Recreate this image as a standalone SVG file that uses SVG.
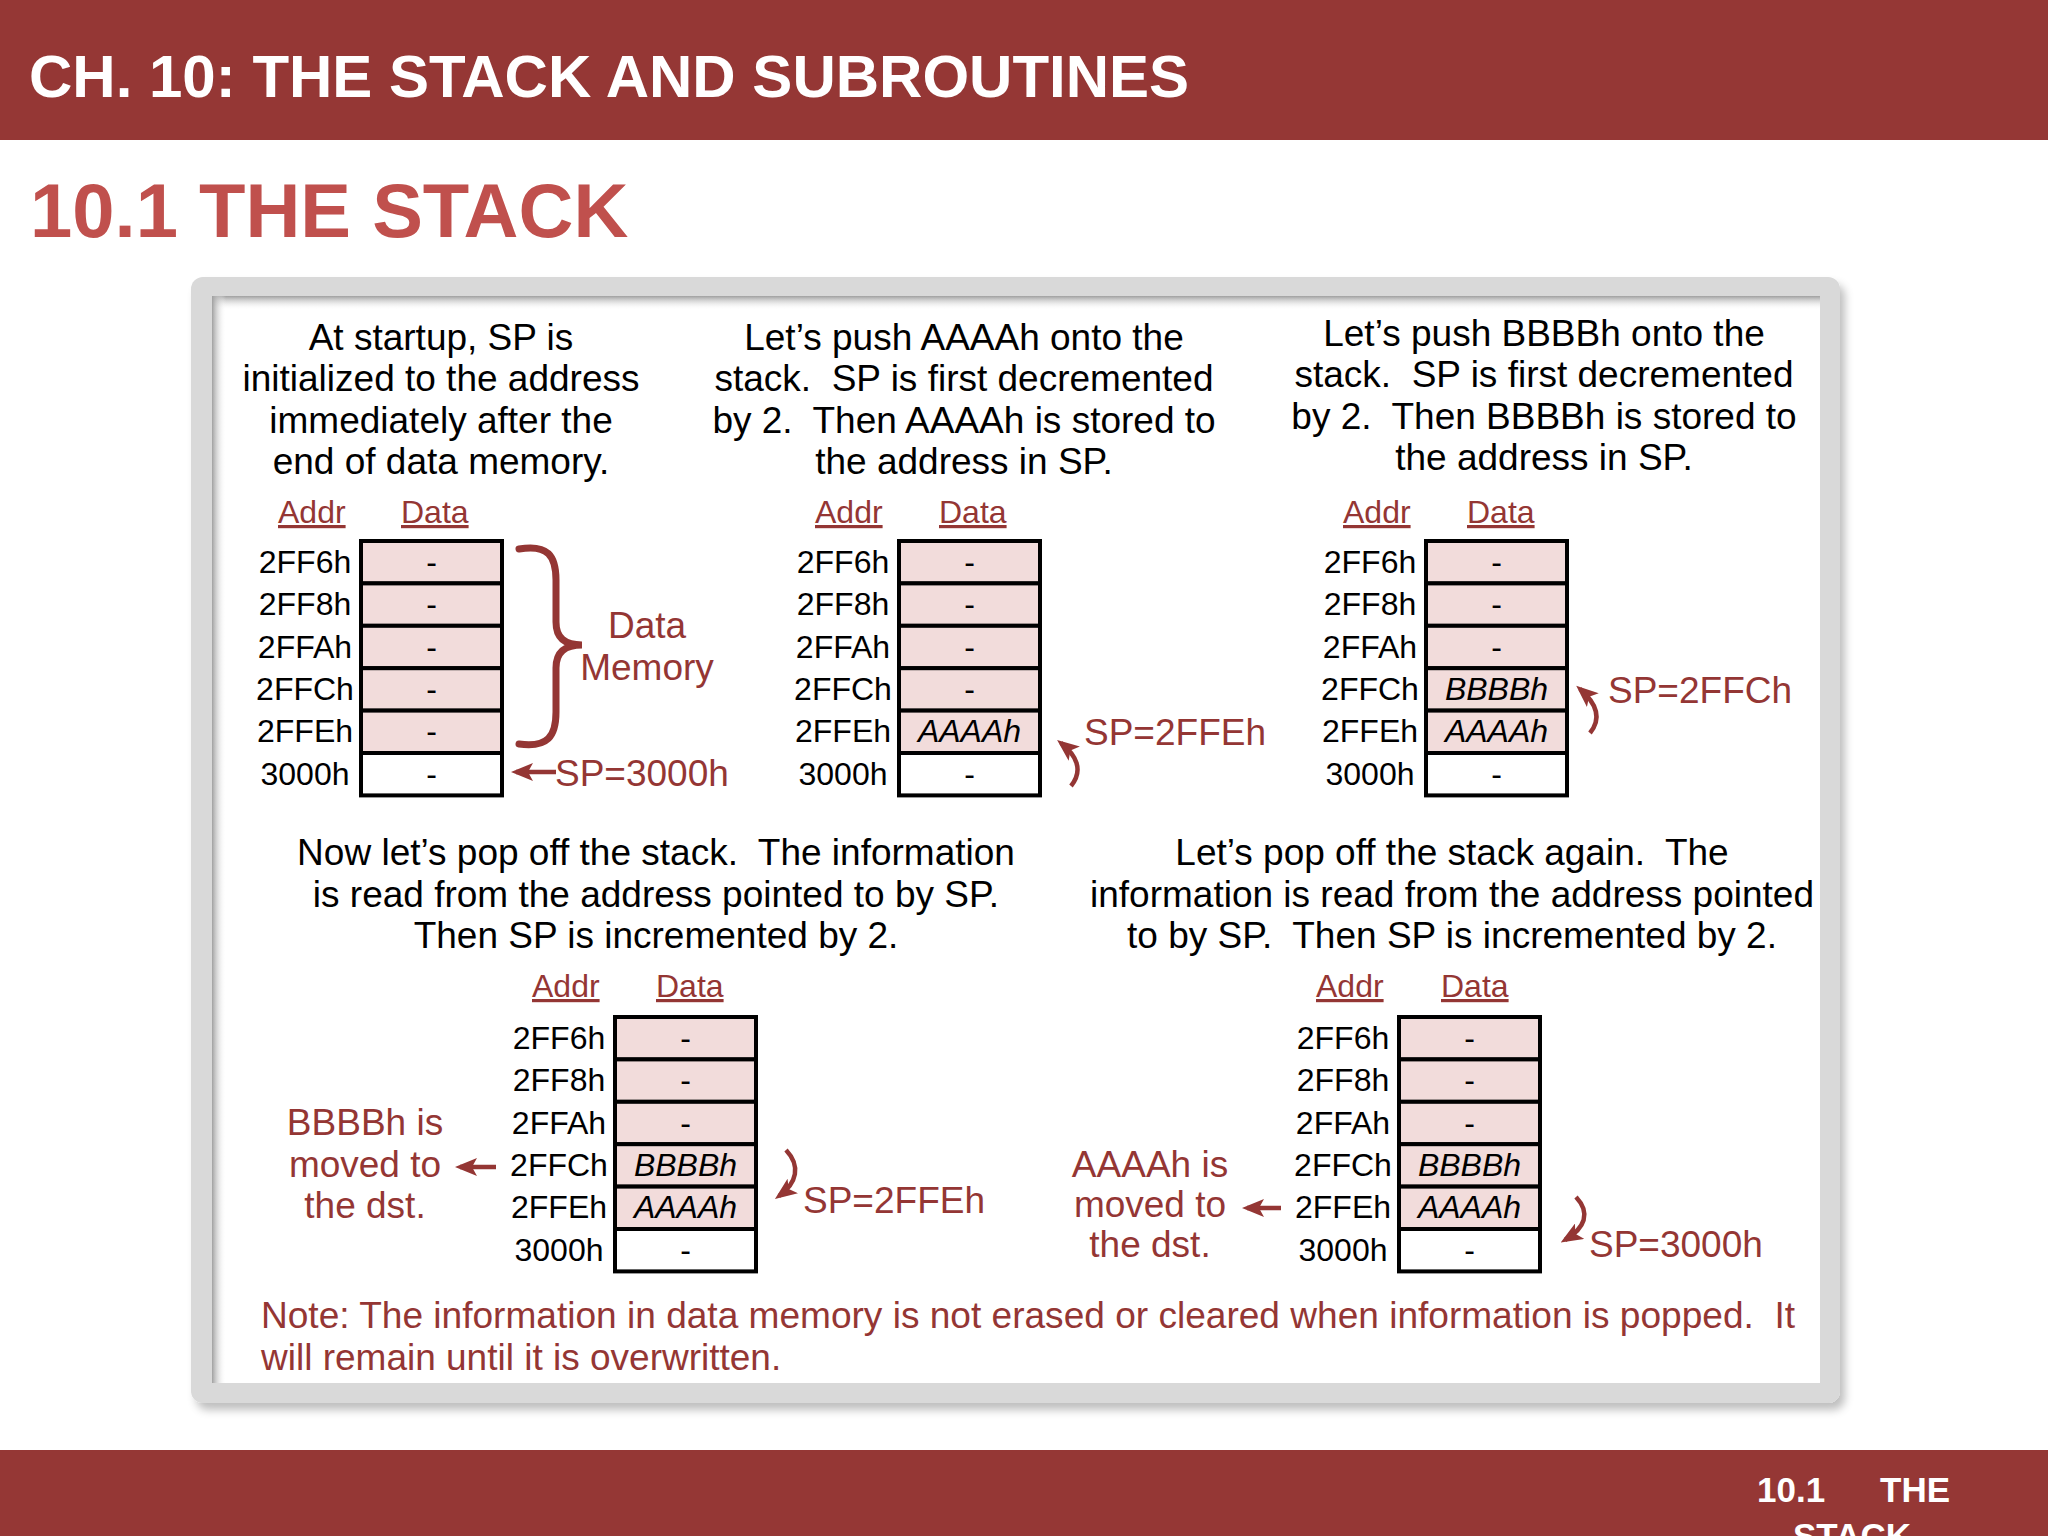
<svg xmlns="http://www.w3.org/2000/svg" width="2048" height="1536" viewBox="0 0 2048 1536">
<defs>
<style>
.t{font-family:"Liberation Sans",Arial,sans-serif;font-size:37px;fill:#000;text-anchor:middle;white-space:pre}
.r{font-family:"Liberation Sans",Arial,sans-serif;font-size:37px;fill:#943634}
.rc{text-anchor:middle}
.h{font-family:"Liberation Sans",Arial,sans-serif;font-size:32px;fill:#943634;text-decoration:underline}
.a{font-family:"Liberation Sans",Arial,sans-serif;font-size:32px;fill:#000;text-anchor:middle}
.i{font-style:italic}
.cp{fill:#F2DCDB;stroke:#000;stroke-width:4}
.cw{fill:#fff;stroke:#000;stroke-width:4}
.ar{fill:none;stroke:#943634;stroke-width:4.5}
.bar{fill:#953735}
.wt{font-family:"Liberation Sans",Arial,sans-serif;font-weight:bold;fill:#fff}
</style>
<marker id="ah" markerUnits="userSpaceOnUse" markerWidth="22" markerHeight="18" refX="17" refY="9" orient="auto" viewBox="0 0 22 18"><path d="M0,0 L22,9 L0,18 L5,9 z" fill="#943634"/></marker>
<filter id="sh" x="-5%" y="-5%" width="110%" height="110%"><feGaussianBlur in="SourceAlpha" stdDeviation="4"/><feOffset dx="5" dy="7" result="b"/><feFlood flood-color="#000" flood-opacity="0.25"/><feComposite in2="b" operator="in"/><feMerge><feMergeNode/><feMergeNode in="SourceGraphic"/></feMerge></filter>
<linearGradient id="gt" x1="0" y1="0" x2="0" y2="1"><stop offset="0" stop-color="#a0a0a0"/><stop offset="1" stop-color="#fff" stop-opacity="0"/></linearGradient>
<linearGradient id="gl" x1="0" y1="0" x2="1" y2="0"><stop offset="0" stop-color="#a0a0a0"/><stop offset="1" stop-color="#fff" stop-opacity="0"/></linearGradient>
</defs>
<rect width="2048" height="1536" fill="#fff"/>
<g id="header">
<rect class="bar" x="0" y="0" width="2048" height="140"/>
<text class="wt" x="29" y="97" font-size="60">CH. 10: THE STACK AND SUBROUTINES</text>
</g>
<text id="subtitle" x="30" y="237" font-family="Liberation Sans, Arial, sans-serif" font-weight="bold" font-size="76" fill="#C0504D">10.1 THE STACK</text>
<g id="frame">
<rect x="191" y="277" width="1649" height="1126" rx="12" fill="#D9D9D9" filter="url(#sh)"/>
<rect x="212" y="296" width="1608" height="1087" fill="#fff"/>
<rect x="212" y="296" width="1608" height="14" fill="url(#gt)"/>
<rect x="212" y="296" width="14" height="1087" fill="url(#gl)"/>
</g>

<g id="panel1">
<text class="t" x="441" y="350">At startup, SP is</text>
<text class="t" x="441" y="391">initialized to the address</text>
<text class="t" x="441" y="433">immediately after the</text>
<text class="t" x="441" y="474">end of data memory.</text>
<text class="h" x="278" y="523">Addr</text>
<text class="h" x="401" y="523">Data</text>
<g id="table1">
<rect class="cp" x="361" y="541" width="141" height="42.4"/>
<rect class="cp" x="361" y="583.4" width="141" height="42.4"/>
<rect class="cp" x="361" y="625.8" width="141" height="42.4"/>
<rect class="cp" x="361" y="668.2" width="141" height="42.4"/>
<rect class="cp" x="361" y="710.6" width="141" height="42.4"/>
<rect class="cw" x="361" y="753" width="141" height="42.4"/>
<text class="a" x="305" y="573">2FF6h</text>
<text class="a" x="305" y="615">2FF8h</text>
<text class="a" x="305" y="658">2FFAh</text>
<text class="a" x="305" y="700">2FFCh</text>
<text class="a" x="305" y="742">2FFEh</text>
<text class="a" x="305" y="785">3000h</text>
<text class="a" x="431.5" y="573">-</text>
<text class="a" x="431.5" y="615">-</text>
<text class="a" x="431.5" y="658">-</text>
<text class="a" x="431.5" y="700">-</text>
<text class="a" x="431.5" y="742">-</text>
<text class="a" x="431.5" y="785">-</text>
</g>
<text class="r rc" x="647" y="638">Data</text>
<text class="r rc" x="647" y="680">Memory</text>
<text class="r" x="555" y="786">SP=3000h</text>
</g>

<g id="panel2">
<text class="t" x="964" y="350">Let’s push AAAAh onto the</text>
<text class="t" x="964" y="391">stack.  SP is first decremented</text>
<text class="t" x="964" y="433">by 2.  Then AAAAh is stored to</text>
<text class="t" x="964" y="474">the address in SP.</text>
<text class="h" x="815" y="523">Addr</text>
<text class="h" x="939" y="523">Data</text>
<g id="table2">
<rect class="cp" x="899" y="541" width="141" height="42.4"/>
<rect class="cp" x="899" y="583.4" width="141" height="42.4"/>
<rect class="cp" x="899" y="625.8" width="141" height="42.4"/>
<rect class="cp" x="899" y="668.2" width="141" height="42.4"/>
<rect class="cp" x="899" y="710.6" width="141" height="42.4"/>
<rect class="cw" x="899" y="753" width="141" height="42.4"/>
<text class="a" x="843" y="573">2FF6h</text>
<text class="a" x="843" y="615">2FF8h</text>
<text class="a" x="843" y="658">2FFAh</text>
<text class="a" x="843" y="700">2FFCh</text>
<text class="a" x="843" y="742">2FFEh</text>
<text class="a" x="843" y="785">3000h</text>
<text class="a" x="969.5" y="573">-</text>
<text class="a" x="969.5" y="615">-</text>
<text class="a" x="969.5" y="658">-</text>
<text class="a" x="969.5" y="700">-</text>
<text class="a i" x="969.5" y="742">AAAAh</text>
<text class="a" x="969.5" y="785">-</text>
</g>
<text class="r" x="1084" y="745">SP=2FFEh</text>
</g>

<g id="panel3">
<text class="t" x="1544" y="346">Let’s push BBBBh onto the</text>
<text class="t" x="1544" y="387">stack.  SP is first decremented</text>
<text class="t" x="1544" y="429">by 2.  Then BBBBh is stored to</text>
<text class="t" x="1544" y="470">the address in SP.</text>
<text class="h" x="1343" y="523">Addr</text>
<text class="h" x="1467" y="523">Data</text>
<g id="table3">
<rect class="cp" x="1426" y="541" width="141" height="42.4"/>
<rect class="cp" x="1426" y="583.4" width="141" height="42.4"/>
<rect class="cp" x="1426" y="625.8" width="141" height="42.4"/>
<rect class="cp" x="1426" y="668.2" width="141" height="42.4"/>
<rect class="cp" x="1426" y="710.6" width="141" height="42.4"/>
<rect class="cw" x="1426" y="753" width="141" height="42.4"/>
<text class="a" x="1370" y="573">2FF6h</text>
<text class="a" x="1370" y="615">2FF8h</text>
<text class="a" x="1370" y="658">2FFAh</text>
<text class="a" x="1370" y="700">2FFCh</text>
<text class="a" x="1370" y="742">2FFEh</text>
<text class="a" x="1370" y="785">3000h</text>
<text class="a" x="1496.5" y="573">-</text>
<text class="a" x="1496.5" y="615">-</text>
<text class="a" x="1496.5" y="658">-</text>
<text class="a i" x="1496.5" y="700">BBBBh</text>
<text class="a i" x="1496.5" y="742">AAAAh</text>
<text class="a" x="1496.5" y="785">-</text>
</g>
<text class="r" x="1608" y="703">SP=2FFCh</text>
</g>

<g id="panel4">
<text class="t" x="656" y="865">Now let’s pop off the stack.  The information</text>
<text class="t" x="656" y="907">is read from the address pointed to by SP.</text>
<text class="t" x="656" y="948">Then SP is incremented by 2.</text>
<text class="h" x="532" y="997">Addr</text>
<text class="h" x="656" y="997">Data</text>
<g id="table4">
<rect class="cp" x="615" y="1017" width="141" height="42.4"/>
<rect class="cp" x="615" y="1059.4" width="141" height="42.4"/>
<rect class="cp" x="615" y="1101.8" width="141" height="42.4"/>
<rect class="cp" x="615" y="1144.2" width="141" height="42.4"/>
<rect class="cp" x="615" y="1186.6" width="141" height="42.4"/>
<rect class="cw" x="615" y="1229" width="141" height="42.4"/>
<text class="a" x="559" y="1049">2FF6h</text>
<text class="a" x="559" y="1091">2FF8h</text>
<text class="a" x="559" y="1134">2FFAh</text>
<text class="a" x="559" y="1176">2FFCh</text>
<text class="a" x="559" y="1218">2FFEh</text>
<text class="a" x="559" y="1261">3000h</text>
<text class="a" x="685.5" y="1049">-</text>
<text class="a" x="685.5" y="1091">-</text>
<text class="a" x="685.5" y="1134">-</text>
<text class="a i" x="685.5" y="1176">BBBBh</text>
<text class="a i" x="685.5" y="1218">AAAAh</text>
<text class="a" x="685.5" y="1261">-</text>
</g>
<text class="r rc" x="365" y="1135">BBBBh is</text>
<text class="r rc" x="365" y="1177">moved to</text>
<text class="r rc" x="365" y="1218">the dst.</text>
<text class="r" x="803" y="1213">SP=2FFEh</text>
</g>

<g id="panel5">
<text class="t" x="1452" y="865">Let’s pop off the stack again.  The</text>
<text class="t" x="1452" y="907">information is read from the address pointed</text>
<text class="t" x="1452" y="948">to by SP.  Then SP is incremented by 2.</text>
<text class="h" x="1316" y="997">Addr</text>
<text class="h" x="1441" y="997">Data</text>
<g id="table5">
<rect class="cp" x="1399" y="1017" width="141" height="42.4"/>
<rect class="cp" x="1399" y="1059.4" width="141" height="42.4"/>
<rect class="cp" x="1399" y="1101.8" width="141" height="42.4"/>
<rect class="cp" x="1399" y="1144.2" width="141" height="42.4"/>
<rect class="cp" x="1399" y="1186.6" width="141" height="42.4"/>
<rect class="cw" x="1399" y="1229" width="141" height="42.4"/>
<text class="a" x="1343" y="1049">2FF6h</text>
<text class="a" x="1343" y="1091">2FF8h</text>
<text class="a" x="1343" y="1134">2FFAh</text>
<text class="a" x="1343" y="1176">2FFCh</text>
<text class="a" x="1343" y="1218">2FFEh</text>
<text class="a" x="1343" y="1261">3000h</text>
<text class="a" x="1469.5" y="1049">-</text>
<text class="a" x="1469.5" y="1091">-</text>
<text class="a" x="1469.5" y="1134">-</text>
<text class="a i" x="1469.5" y="1176">BBBBh</text>
<text class="a i" x="1469.5" y="1218">AAAAh</text>
<text class="a" x="1469.5" y="1261">-</text>
</g>
<text class="r rc" x="1150" y="1177">AAAAh is</text>
<text class="r rc" x="1150" y="1217">moved to</text>
<text class="r rc" x="1150" y="1257">the dst.</text>
<text class="r" x="1589" y="1257">SP=3000h</text>
</g>

<g id="note">
<text class="r" x="261" y="1328" textLength="1534" lengthAdjust="spacingAndGlyphs" style="white-space:pre">Note: The information in data memory is not erased or cleared when information is popped.  It</text>
<text class="r" x="261" y="1370">will remain until it is overwritten.</text>
</g>

<g id="connectors">
<path d="M519,549 C548,544 556,556 556,580 L556,622 C556,638 565,645 582,645 C565,645 556,652 556,668 L556,712 C556,736 548,748 519,744" fill="none" stroke="#943634" stroke-width="7" stroke-linecap="round"/>
<line class="ar" x1="556" y1="772" x2="516" y2="772" marker-end="url(#ah)"/>
<path class="ar" d="M1071,786 C1084,770 1076,755 1061,743" marker-end="url(#ah)"/>
<path class="ar" d="M1590,733 C1603,717 1595,702 1580,689" marker-end="url(#ah)"/>
<path class="ar" d="M786,1150 C801,1166 797,1183 779,1196" marker-end="url(#ah)"/>
<path class="ar" d="M1576,1197 C1591,1213 1585,1228 1565,1240" marker-end="url(#ah)"/>
<line class="ar" x1="496" y1="1167" x2="460" y2="1167" marker-end="url(#ah)"/>
<line class="ar" x1="1281" y1="1208" x2="1247" y2="1208" marker-end="url(#ah)"/>
</g>

<g id="footer">
<rect class="bar" x="0" y="1450" width="2048" height="86"/>
<text class="wt" x="1757" y="1502" font-size="35">10.1</text>
<text class="wt" x="1880" y="1502" font-size="35">THE</text>
<text class="wt" x="1793" y="1548" font-size="35">STACK</text>
</g>
</svg>
